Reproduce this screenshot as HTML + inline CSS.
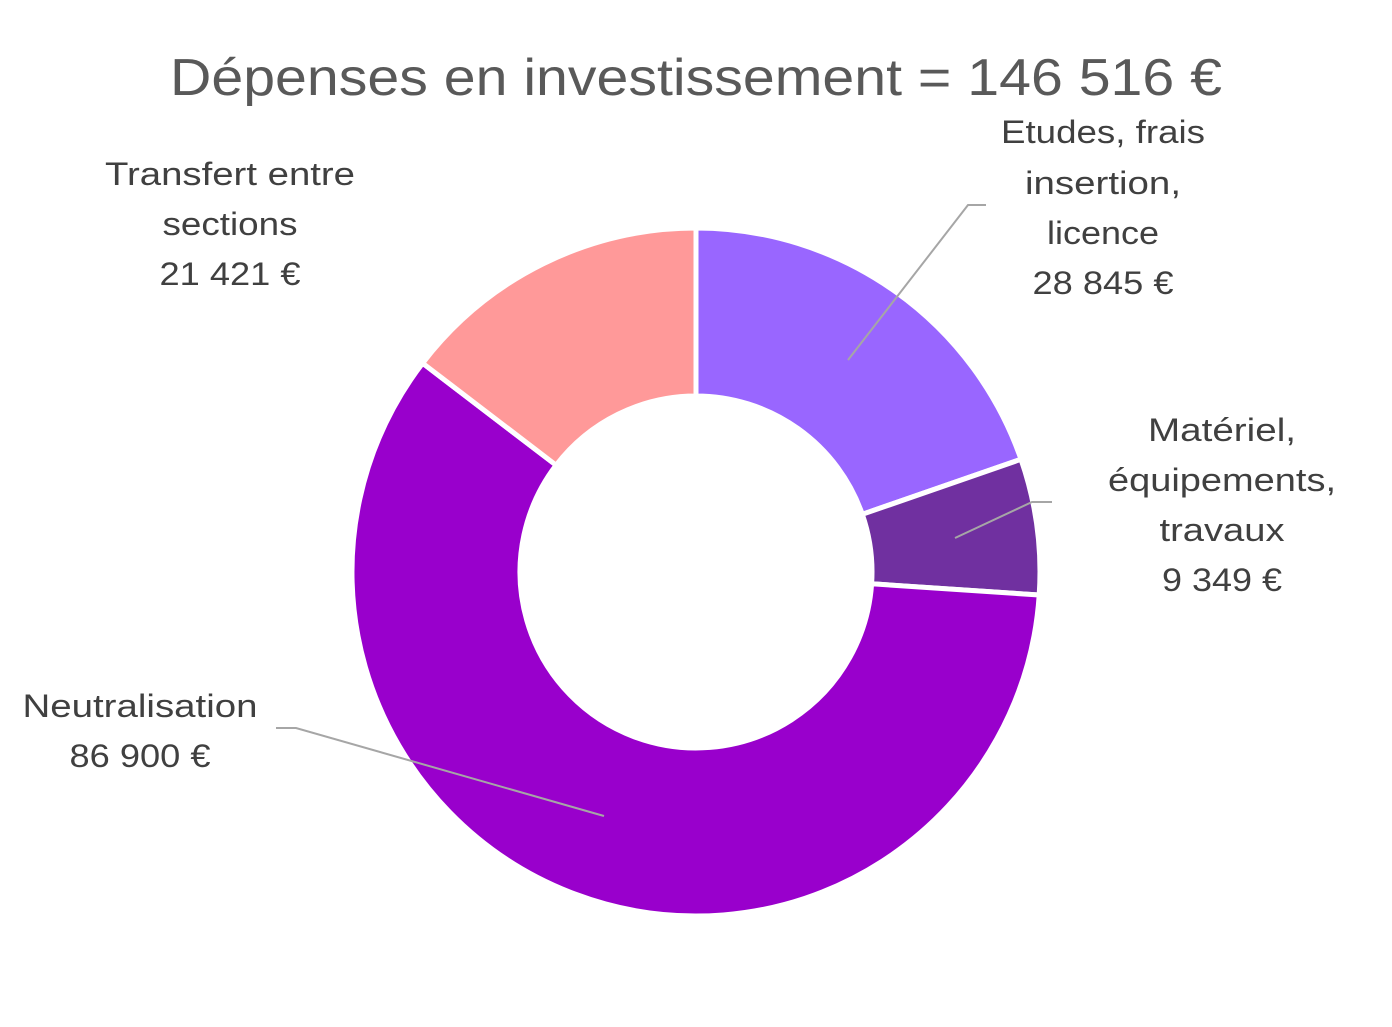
<!DOCTYPE html>
<html><head><meta charset="utf-8"><style>
html,body{margin:0;padding:0;background:#fff;}
svg{display:block;}
text{font-family:"Liberation Sans",sans-serif;}
</style></head><body>
<svg width="1392" height="1027" viewBox="0 0 1392 1027" xmlns="http://www.w3.org/2000/svg">
<rect width="1392" height="1027" fill="#fff"/>
<text x="696" y="95" text-anchor="middle" font-size="52" fill="#595959" textLength="1052" lengthAdjust="spacingAndGlyphs">Dépenses en investissement = 146 516 €</text>
<g stroke="#fff" stroke-width="5" stroke-linejoin="round">
<path d="M696,228 A344,344 0 0 1 1021.0,459.3 L862.3,514.3 A176,176 0 0 0 696,396 Z" fill="#9966FF"/>
<path d="M1021.0,459.3 A344,344 0 0 1 1039.2,595.0 L871.6,583.8 A176,176 0 0 0 862.3,514.3 Z" fill="#7030A0"/>
<path d="M1039.2,595.0 A344,344 0 1 1 422.6,363.2 L556.1,465.2 A176,176 0 1 0 871.6,583.8 Z" fill="#9900CC"/>
<path d="M422.6,363.2 A344,344 0 0 1 696,228 L696,396 A176,176 0 0 0 556.1,465.2 Z" fill="#FF9999"/>
</g>
<g stroke="#a6a6a6" stroke-width="2" fill="none">
<polyline points="848,360 968,205 986,205"/>
<polyline points="955,538 1032,502 1052,502"/>
<polyline points="604,816 296,728 276,728"/>
</g>
<g font-size="32" fill="#404040" text-anchor="middle" lengthAdjust="spacingAndGlyphs">
<text x="230" y="185" textLength="250" lengthAdjust="spacingAndGlyphs">Transfert entre</text>
<text x="230" y="235" textLength="135" lengthAdjust="spacingAndGlyphs">sections</text>
<text x="230" y="285" textLength="141" lengthAdjust="spacingAndGlyphs">21 421 €</text>
<text x="1103" y="143" textLength="204" lengthAdjust="spacingAndGlyphs">Etudes, frais</text>
<text x="1103" y="194" textLength="156" lengthAdjust="spacingAndGlyphs">insertion,</text>
<text x="1103" y="244" textLength="112" lengthAdjust="spacingAndGlyphs">licence</text>
<text x="1103" y="294" textLength="141" lengthAdjust="spacingAndGlyphs">28 845 €</text>
<text x="1222" y="441" textLength="148" lengthAdjust="spacingAndGlyphs">Matériel,</text>
<text x="1222" y="491" textLength="228" lengthAdjust="spacingAndGlyphs">équipements,</text>
<text x="1222" y="541" textLength="125" lengthAdjust="spacingAndGlyphs">travaux</text>
<text x="1222" y="591" textLength="120" lengthAdjust="spacingAndGlyphs">9 349 €</text>
<text x="140" y="717" textLength="235" lengthAdjust="spacingAndGlyphs">Neutralisation</text>
<text x="140" y="767" textLength="141" lengthAdjust="spacingAndGlyphs">86 900 €</text>
</g>
</svg>
</body></html>
